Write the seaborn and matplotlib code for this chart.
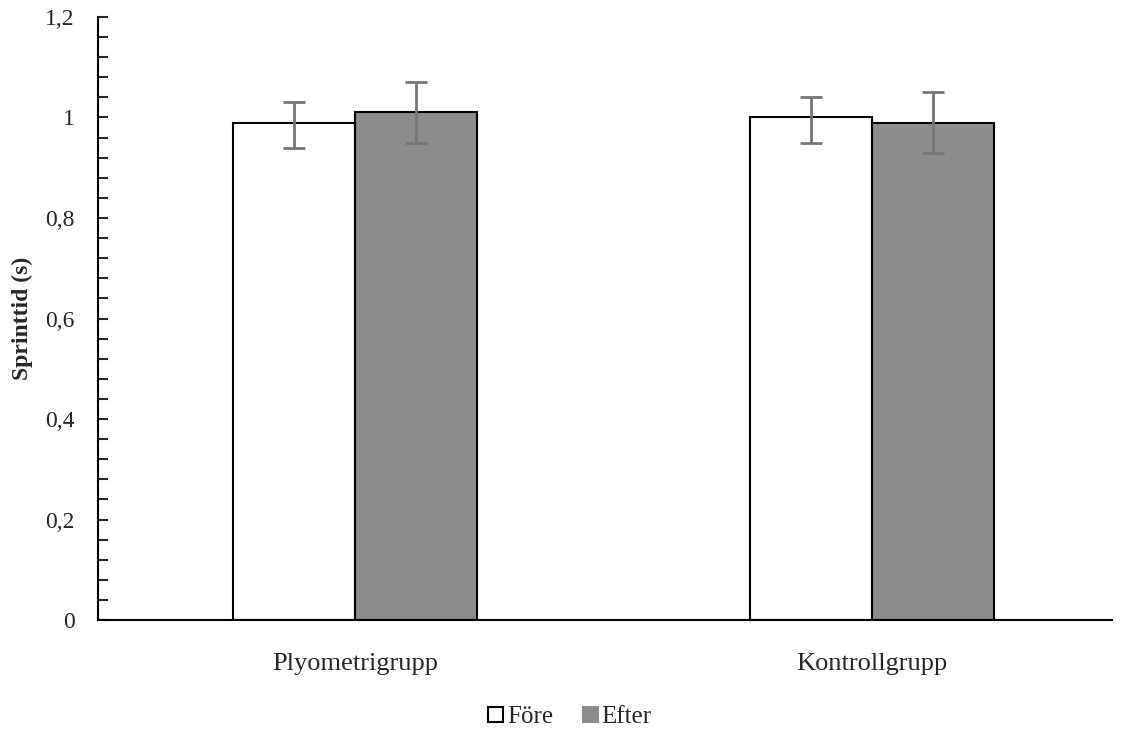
import pandas as pd
import matplotlib
matplotlib.use("Agg")
import matplotlib.pyplot as plt
import seaborn as sns
from matplotlib.ticker import MultipleLocator, FuncFormatter

# Data
groups = ["Plyometrigrupp", "Kontrollgrupp"]
phases = ["Före", "Efter"]
fore_vals = [0.99, 1.00]
efter_vals = [1.01, 0.99]
fore_err_low = [0.05, 0.05]
fore_err_high = [0.04, 0.04]
efter_err_low = [0.06, 0.06]
efter_err_high = [0.06, 0.06]

df = pd.DataFrame({
    "grupp": groups * 2,
    "fas": [phases[0]] * 2 + [phases[1]] * 2,
    "tid": fore_vals + efter_vals,
})

sns.set_style("white")
plt.rcParams["font.family"] = ["Liberation Serif", "DejaVu Serif"]

fig = plt.figure(figsize=(11.24, 7.29), dpi=100)
ax = fig.add_axes([0.0872, 0.1495, 0.9018, 0.8272])

sns.barplot(
    data=df, x="grupp", y="tid", hue="fas", order=groups, hue_order=phases,
    palette={"Före": "white", "Efter": "#8c8c8c"}, edgecolor="black",
    linewidth=1.5, width=0.472, errorbar=None, ax=ax, legend=True,
)

# error bars centred on the bars seaborn drew
lows = fore_err_low + efter_err_low
highs = fore_err_high + efter_err_high
for bar, lo, hi in zip(ax.patches[:4], lows, highs):
    cx = bar.get_x() + bar.get_width() / 2
    ax.errorbar(cx, bar.get_height(), yerr=[[lo], [hi]], fmt="none",
                ecolor="#767676", elinewidth=2, capsize=8, capthick=2)

ax.set_xlim(-0.497, 1.464)
ax.set_ylim(0, 1.2)
ax.yaxis.set_major_locator(MultipleLocator(0.2))
ax.yaxis.set_minor_locator(MultipleLocator(0.04))
ax.yaxis.set_major_formatter(FuncFormatter(lambda v, p: f"{v:g}".replace(".", ",")))
ax.tick_params(axis="y", which="both", direction="in", length=7, width=1.5,
               left=True, labelsize=17, pad=17)
ax.tick_params(axis="x", bottom=False, labelsize=19, pad=20)

for s in ["top", "right"]:
    ax.spines[s].set_visible(False)
for s in ["left", "bottom"]:
    ax.spines[s].set_linewidth(1.5)
    ax.spines[s].set_color("black")

ax.set_xlabel("")
ax.set_ylabel("Sprinttid (s)", fontsize=17, fontweight="bold")
ax.yaxis.set_label_coords(-0.064, 0.5)

ax.legend_.remove()
handles, labels = ax.get_legend_handles_labels()
leg = fig.legend(handles[:2], labels[:2], loc="center", bbox_to_anchor=(0.507, 0.016),
                 ncol=2, frameon=False, fontsize=18, handlelength=0.6, handleheight=0.6,
                 handletextpad=0.15, columnspacing=1.2)
leg.legend_handles[1].set_edgecolor("#8c8c8c")

fig.savefig("out.png", dpi=100)
